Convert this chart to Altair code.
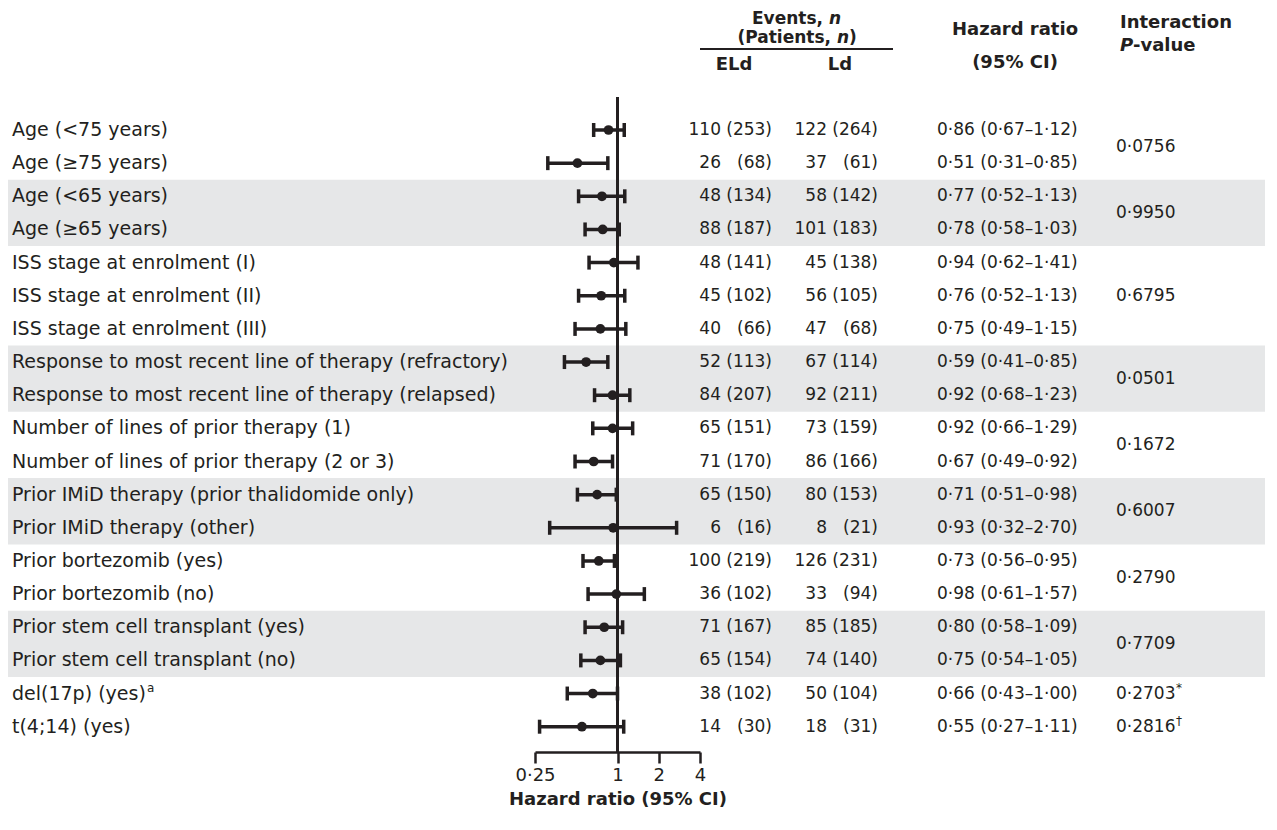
import altair as alt
import pandas as pd

# ---------------- data ----------------
labels = [
    "Age (<75 years)", "Age (≥75 years)", "Age (<65 years)", "Age (≥65 years)",
    "ISS stage at enrolment (I)", "ISS stage at enrolment (II)", "ISS stage at enrolment (III)",
    "Response to most recent line of therapy (refractory)",
    "Response to most recent line of therapy (relapsed)",
    "Number of lines of prior therapy (1)", "Number of lines of prior therapy (2 or 3)",
    "Prior IMiD therapy (prior thalidomide only)", "Prior IMiD therapy (other)",
    "Prior bortezomib (yes)", "Prior bortezomib (no)",
    "Prior stem cell transplant (yes)", "Prior stem cell transplant (no)",
    "del(17p) (yes)", "t(4;14) (yes)",
]
eld_events = [110, 26, 48, 88, 48, 45, 40, 52, 84, 65, 71, 65, 6, 100, 36, 71, 65, 38, 14]
eld_patients = [253, 68, 134, 187, 141, 102, 66, 113, 207, 151, 170, 150, 16, 219, 102, 167, 154, 102, 30]
ld_events = [122, 37, 58, 101, 45, 56, 47, 67, 92, 73, 86, 80, 8, 126, 33, 85, 74, 50, 18]
ld_patients = [264, 61, 142, 183, 138, 105, 68, 114, 211, 159, 166, 153, 21, 231, 94, 185, 140, 104, 31]
hr = [0.86, 0.51, 0.77, 0.78, 0.94, 0.76, 0.75, 0.59, 0.92, 0.92, 0.67, 0.71, 0.93, 0.73, 0.98, 0.80, 0.75, 0.66, 0.55]
ci_low = [0.67, 0.31, 0.52, 0.58, 0.62, 0.52, 0.49, 0.41, 0.68, 0.66, 0.49, 0.51, 0.32, 0.56, 0.61, 0.58, 0.54, 0.43, 0.27]
ci_high = [1.12, 0.85, 1.13, 1.03, 1.41, 1.13, 1.15, 0.85, 1.23, 1.29, 0.92, 0.98, 2.70, 0.95, 1.57, 1.09, 1.05, 1.00, 1.11]
group = [0, 0, 1, 1, 2, 2, 2, 3, 3, 4, 4, 5, 5, 6, 6, 7, 7, 8, 9]
group_p = ["0·0756", "0·9950", "0·6795", "0·0501", "0·1672", "0·6007", "0·2790", "0·7709", "0·2703", "0·2816"]
group_note = ["", "", "", "", "", "", "", "", "*", "†"]
group_shaded = [False, True, False, True, False, True, False, True, False, False]
label_notes = {"del(17p) (yes)": "a"}
axis_ticks = [0.25, 1, 2, 4]

# ---------------- tables ----------------
def dot(v):
    return f"{v:.2f}".replace(".", "·")

df = pd.DataFrame({
    "row": list(range(len(labels))),
    "label": labels,
    "eld_e": [str(v) for v in eld_events],
    "eld_p": [f"({v})" for v in eld_patients],
    "ld_e": [str(v) for v in ld_events],
    "ld_p": [f"({v})" for v in ld_patients],
    "hr": hr, "lo": ci_low, "hi": ci_high,
    "group": group,
})
df["hr_txt"] = [f"{dot(h)} ({dot(l)}–{dot(u)})" for h, l, u in zip(hr, ci_low, ci_high)]

gdf = df.groupby("group")["row"].agg(["min", "max"]).reset_index()
gdf["mid"] = (gdf["min"] + gdf["max"]) / 2
gdf["p"] = group_p
gdf["note"] = group_note
gdf["shaded"] = group_shaded
gdf["y0"] = gdf["min"] - 0.5
gdf["y1"] = gdf["max"] + 0.5
bands = gdf[gdf["shaded"]]

notes_df = pd.DataFrame({"label": list(label_notes.keys()), "note": list(label_notes.values())})
notes_df = notes_df.merge(df[["label", "row"]], on="label")

ref_df = pd.DataFrame({"v": [1]})

# ---------------- styling ----------------
INK = "#231f20"
BAND = "#e6e7e8"
FONT = "DejaVu Sans"
LABEL_SIZE = 19
NUM_SIZE = 17
HEAD_SIZE = 18

ROW_H = 33.15
Y_TOP = 122
PLOT_H = 744
PLOT_W = 1249
y0v = -Y_TOP / ROW_H
yscale = alt.Scale(domain=[y0v, y0v + PLOT_H / ROW_H], reverse=True, nice=False, zero=False)
xscale = alt.Scale(type="log", base=2, domain=[0.25, 4], range=[519, 684], nice=False)
xaxis = alt.Axis(
    values=axis_ticks, title="Hazard ratio (95% CI)", grid=False, labelFlush=False,
    labelExpr="replace(toString(datum.value), '.', '·')",
    domainColor=INK, domainWidth=2.5, tickColor=INK, tickWidth=2.5, tickSize=11,
    labelFont=FONT, labelFontSize=18, labelColor=INK, labelPadding=3,
    titleFont=FONT, titleFontSize=18, titleFontWeight="bold", titleColor=INK,
    titlePadding=6,
)
Y = alt.Y("row:Q", scale=yscale, axis=None)

base = alt.Chart(df)

band_layer = alt.Chart(bands).mark_rect(color=BAND).encode(
    x=alt.value(-8), x2=alt.value(PLOT_W),
    y=alt.Y("y0:Q", scale=yscale, axis=None), y2="y1:Q",
)

ref_line = alt.Chart(ref_df).mark_rule(color=INK, strokeWidth=3).encode(
    x=alt.X("v:Q", scale=xscale, axis=xaxis),
    y=alt.value(89), y2=alt.value(PLOT_H),
)

ci = base.mark_rule(color=INK, strokeWidth=3.5).encode(
    x=alt.X("lo:Q", scale=xscale, axis=xaxis), x2="hi:Q", y=Y,
)
cap_lo = base.mark_tick(color=INK, orient="vertical", size=14, thickness=3.5, opacity=1).encode(
    x=alt.X("lo:Q", scale=xscale, axis=xaxis), y=Y,
)
cap_hi = base.mark_tick(color=INK, orient="vertical", size=14, thickness=3.5, opacity=1).encode(
    x=alt.X("hi:Q", scale=xscale, axis=xaxis), y=Y,
)
pts = base.mark_circle(color=INK, size=95, opacity=1).encode(
    x=alt.X("hr:Q", scale=xscale, axis=xaxis), y=Y,
)

def txt(x, field, align="left", size=NUM_SIZE, data=None, yfield="row"):
    src = base if data is None else alt.Chart(data)
    return src.mark_text(align=align, baseline="middle", font=FONT, fontSize=size, color=INK).encode(
        x=alt.value(x), y=alt.Y(f"{yfield}:Q", scale=yscale, axis=None), text=f"{field}:N",
    )

label_layer = txt(-4, "label", size=LABEL_SIZE)
note_layer = alt.Chart(notes_df).mark_text(
    align="left", baseline="middle", font=FONT, fontSize=12, color=INK, dy=-6
).encode(x=alt.value(131), y=alt.Y("row:Q", scale=yscale, axis=None), text="note:N")

eld_e = txt(705, "eld_e", "right")
eld_p = txt(756, "eld_p", "right")
ld_e = txt(811, "ld_e", "right")
ld_p = txt(862, "ld_p", "right")
hr_t = txt(921, "hr_txt", "left")
p_t = txt(1100, "p", "left", data=gdf, yfield="mid")
p_note = alt.Chart(gdf).mark_text(
    align="left", baseline="middle", font=FONT, fontSize=12, color=INK, dy=-6
).encode(x=alt.value(1160), y=alt.Y("mid:Q", scale=yscale, axis=None), text="note:N")

# ---------------- header ----------------
head_df = pd.DataFrame({"k": [0]})

def head(text, x, y, align="center", italic=False, size=HEAD_SIZE):
    return alt.Chart(head_df).mark_text(
        text=text, align=align, baseline="middle", font=FONT, fontSize=size,
        fontWeight="bold", fontStyle="italic" if italic else "normal", color=INK,
    ).encode(x=alt.value(x), y=alt.value(y))

S2 = 17
header = [
    head("Events,", 807, 11, "right", size=S2), head("n", 813, 11, "left", True, size=S2),
    head("(Patients,", 815, 30, "right", size=S2), head("n", 821, 30, "left", True, size=S2),
    head(")", 833, 30, "left", size=S2),
    head("ELd", 718, 57), head("Ld", 824, 57),
    head("Hazard ratio", 999, 22), head("(95% CI)", 999, 55),
    head("Interaction", 1104, 15, "left"),
    head("P", 1104, 38, "left", True), head("-value", 1117, 38, "left"),
]
underline = alt.Chart(head_df).mark_rule(color=INK, strokeWidth=2).encode(
    x=alt.value(684), x2=alt.value(877), y=alt.value(41),
)

chart = alt.layer(
    band_layer, ref_line, ci, cap_lo, cap_hi, pts,
    label_layer, note_layer, eld_e, eld_p, ld_e, ld_p, hr_t, p_t, p_note,
    underline, *header,
).properties(
    width=PLOT_W, height=PLOT_H, background="white",
    autosize=alt.AutoSizeParams(type="none"),
    padding={"left": 8, "top": 0, "right": 4, "bottom": 70},
).configure_view(strokeWidth=0)

chart.save("out.html", embed_options={"renderer": "svg", "actions": False})
